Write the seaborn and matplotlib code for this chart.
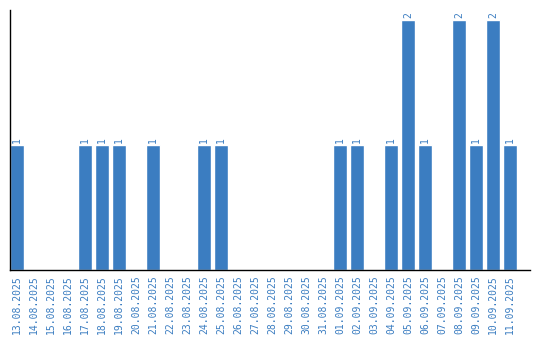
import matplotlib
matplotlib.use("Agg")
import matplotlib.pyplot as plt
import seaborn as sns
import pandas as pd

dates = ["13.08.2025", "14.08.2025", "15.08.2025", "16.08.2025", "17.08.2025",
         "18.08.2025", "19.08.2025", "20.08.2025", "21.08.2025", "22.08.2025",
         "23.08.2025", "24.08.2025", "25.08.2025", "26.08.2025", "27.08.2025",
         "28.08.2025", "29.08.2025", "30.08.2025", "31.08.2025", "01.09.2025",
         "02.09.2025", "03.09.2025", "04.09.2025", "05.09.2025", "06.09.2025",
         "07.09.2025", "08.09.2025", "09.09.2025", "10.09.2025", "11.09.2025"]
counts = [1, 0, 0, 0, 1, 1, 1, 0, 1, 0, 0, 1, 1, 0, 0, 0, 0, 0, 0, 1,
          1, 0, 1, 2, 1, 0, 2, 1, 2, 1]

df = pd.DataFrame({"date": dates, "count": counts})

sns.set_style("white")
plt.rcParams['font.family'] = ['DejaVu Sans Mono', 'DejaVu Sans']

blue = "#3b7dc1"
fig = plt.figure(figsize=(5.4, 3.4), dpi=100)
ax = fig.add_axes([10/540, 70/340, 520/540, 260/340])
sns.barplot(data=df, x="date", y="count", order=dates, color=blue,
            saturation=1, width=0.82, ax=ax)

for i, v in enumerate(counts):
    if v > 0:
        ax.text(i, v + 0.015, str(v), rotation=90, ha="center", va="bottom",
                color=blue, fontsize=7)

ax.set_xlim(-0.41, 30.18)
ax.set_ylim(0, 2.08)
ax.set_xlabel("")
ax.set_ylabel("")
ax.set_yticks([])
ax.tick_params(axis="x", length=0, pad=4, labelsize=7, labelcolor=blue)
plt.setp(ax.get_xticklabels(), rotation=90)
for s in ["top", "right"]:
    ax.spines[s].set_visible(False)
for s in ["left", "bottom"]:
    ax.spines[s].set_color("black")
    ax.spines[s].set_linewidth(1)

fig.savefig("out.png", dpi=100)
